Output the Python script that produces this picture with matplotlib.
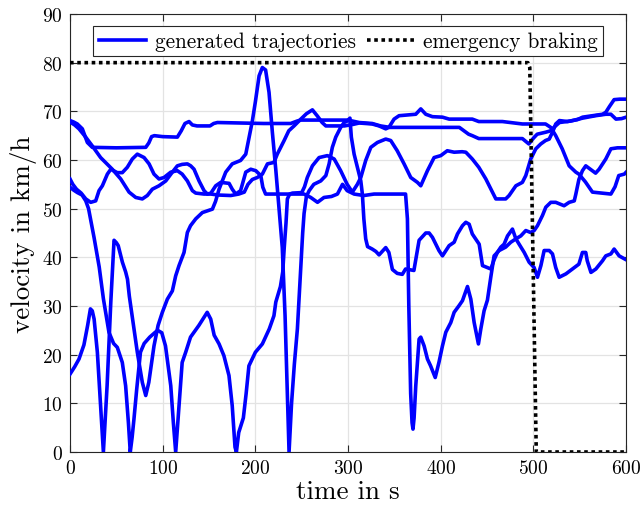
import matplotlib
matplotlib.use('Agg')
import matplotlib.pyplot as plt

# ---------------- data ----------------
traj_a = [(0, 68.1), (4, 67.8), (7.9, 67.4), (13.3, 66.4), (16, 65), (18.7, 63.6), (24, 62.6),
          (50, 62.5), (81.7, 62.6), (85, 63.5), (88, 64.8), (91, 65), (100, 64.8), (115.8, 64.7),
          (120, 66), (124, 67.5), (128.4, 67.9), (132, 67.2), (137, 67), (151, 67), (155, 67.5),
          (159, 67.7), (209, 67.5), (238, 67.5), (245, 68), (249, 68.2), (300, 68.2), (312, 67.7),
          (326, 67.5), (335, 67), (345, 66.7), (420, 66.7), (425, 66), (430, 65.3), (434, 65),
          (441, 64.4), (488, 64.4), (495, 63.3), (500, 64.5), (504, 65.3), (513, 65.7), (518.6, 66),
          (522, 66.7), (528, 67.7), (540, 68), (553, 68.6), (567, 69.1), (578, 69.4), (583.5, 69.4),
          (589, 68.4), (595, 68.5), (600, 68.8)]

traj_b = [(0, 67.8), (5, 67.2), (9.7, 66.4), (16.9, 64.7), (24, 62.9), (33, 60.5), (45.6, 58.1),
          (54.7, 56.1), (63.7, 53.4), (70.9, 52.3), (78, 52), (83.4, 52.7), (88.8, 54), (96, 54.7),
          (103.3, 55.7), (110.4, 57.5), (115.8, 58.8), (121, 59.1), (126.6, 59.2), (130.2, 58.8),
          (133.8, 58.1), (139.2, 55.7), (144.6, 53.7), (148.2, 53), (152, 53.2), (157.2, 54.7),
          (162.6, 55.4), (171.6, 55.2), (175, 54), (178.8, 53), (184, 53.7), (189.6, 57.5),
          (195, 58.1), (200.4, 57.8), (205.8, 56.8), (208, 54.4), (211, 53), (227, 53), (252.5, 53),
          (259.7, 52.3), (267, 51.3), (274, 52.3), (282, 52.5), (288.5, 53), (294, 55), (299, 53.7),
          (306.5, 53), (317, 52.7), (328, 53), (362, 53), (364, 47.9), (365.5, 30), (367.5, 12),
          (369, 6), (370, 4.7), (371.2, 7), (373, 13.6), (376.6, 23.2), (378.4, 23.6), (382, 21.8),
          (385.6, 19.1), (389, 17.7), (394, 15.3), (398, 18.4), (401.8, 21.8), (405.4, 24.6),
          (410.8, 26.6), (414.4, 28.7), (419.8, 30.1), (423.4, 31.1), (428.8, 34), (432.4, 31.4),
          (436, 26.6), (440.6, 22.2), (443.2, 25.3), (446.7, 29), (450.3, 31.2), (454, 36),
          (457.5, 40.3), (461, 41), (464.8, 42.1), (468.3, 42.7), (472, 44.4), (477.3, 45.8),
          (481, 43.8), (484.5, 42.7), (490, 41), (495.3, 39), (500.7, 37.9), (504.3, 35.9),
          (508, 38.3), (511.5, 41.4), (517, 41.4), (520.5, 40.7), (524, 37.9), (527.7, 35.9),
          (535, 36.6), (542, 37.6), (549, 38.6), (552.8, 41), (556.4, 41), (558, 39.3), (562, 36.9),
          (567.3, 37.6), (574.5, 39.3), (578, 40.3), (583.5, 40.7), (587, 41.7), (592.4, 40.3),
          (598, 39.7), (600, 39.5)]

traj_c = [(0, 56.1), (3, 55), (7, 54), (12, 53.2), (17, 52), (22.3, 51.3), (27.7, 51.6), (31.3, 53.7),
          (34.9, 54.7), (40.3, 57.1), (44, 58.1), (51, 57.4), (56.4, 57.4), (61.8, 58.5), (67.2, 60.2),
          (72.6, 61.2), (79.9, 60.5), (85.3, 59.2), (90.6, 57.1), (96, 56.1), (101.4, 56.4),
          (108.7, 57.5), (115.8, 57.8), (121, 57.1), (126.6, 55.7), (132, 53.7), (135.6, 53.2),
          (144.6, 53), (152, 53), (160, 52.8), (173.4, 52.7), (182, 53), (188, 53.4), (192, 55),
          (196.7, 56), (202, 56.4), (207.5, 57.1), (213, 59.2), (220, 59.5), (223.6, 61.2), (231, 64),
          (236, 66), (241.7, 67), (249, 68.4), (255, 69.5), (261.5, 70.3), (267, 69), (272, 67.7),
          (276, 67), (296, 67), (305, 67.3), (312, 67.6), (326, 67.4), (333.4, 67), (340.6, 66.4),
          (344, 66.7), (349.6, 68.4), (355, 69.1), (373, 69.4), (378.4, 70.5), (383.8, 69.4),
          (391, 68.9), (401.8, 68.8), (409, 68.4), (434, 68.4), (441, 67.9), (466.5, 67.9),
          (488, 67.4), (513, 67.4), (518.6, 66.7), (524, 65), (531, 62.3), (538.5, 58.8),
          (545.7, 57.5), (549, 57.1), (556, 55.5), (563.6, 53.4), (583.5, 53), (588, 54.5),
          (592, 56.8), (598, 57.1), (600, 57.5)]

traj_d = [(0, 16), (5, 17.5), (9.7, 19.1), (15, 22), (19, 26), (22, 29.4), (24, 29), (26, 27.3),
          (29.5, 20.5), (33, 9.5), (36, 0), (40, 13.6), (44, 30.8), (47.5, 43.5), (50, 43), (52, 42.4),
          (56.5, 39), (60, 37), (62, 35.5), (64, 32), (67, 28), (72.6, 20.5), (78, 14.3), (81.7, 11.6),
          (85, 14.3), (90.6, 21.8), (95, 26), (99.6, 28.7), (105, 31.4), (110.4, 33.1), (114, 36.2),
          (117.6, 38.3), (123, 41), (126.6, 45.1), (130, 46.5), (135.6, 47.9), (142.8, 49.2),
          (153.6, 49.9), (157, 51.5), (160.8, 54), (168, 57.5), (175, 59.2), (184, 59.9),
          (189.6, 61.2), (193, 64.5), (196.7, 68), (200, 72), (204, 77.3), (207.5, 79), (211, 78.5),
          (214.7, 73.9), (218.3, 65.7), (222, 58), (225.5, 50), (229, 42), (232, 28), (234.5, 12),
          (236.3, 0), (239, 10), (242, 18), (245.3, 25.3), (249, 38.3), (251, 45), (252.5, 49),
          (255, 52.5), (258, 53.7), (263, 55), (270.5, 55.7), (276, 56.8), (279.5, 59.2), (283, 62.6),
          (286.7, 64.7), (292, 66.7), (295.7, 67.7), (299, 68), (302, 68.6), (303.5, 64.7),
          (306.5, 61.2), (310, 58.5), (313.7, 55.7), (315.4, 53), (317, 47.9), (319, 43.8),
          (321, 42.2), (326, 41.7), (330, 41.2), (333.4, 40.5), (340.6, 42), (344, 41), (347.8, 37.5),
          (353, 36.7), (358.5, 36.5), (362, 37.6), (367.6, 37.4), (371, 37.3), (376.6, 43.5),
          (383.8, 45), (387.4, 45), (391, 44.1), (398, 41.4), (401.8, 40.3), (409, 42.4),
          (414.4, 43.1), (418, 44.8), (423.4, 46.5), (427, 47.2), (430.6, 46.8), (434, 44.8),
          (441.4, 42.7), (445, 38.3), (450.3, 37.9), (454, 37.6), (457.5, 39.5), (461, 41),
          (463, 41.4), (470, 42.1), (475.5, 43.1), (481, 43.8), (486.3, 44.4), (491.7, 45.5),
          (497, 45.1), (500.7, 45.5), (504.3, 46.5), (509.7, 48.6), (513.3, 50.3), (518.7, 51.3),
          (524, 51.3), (533, 50.6), (538.5, 51.3), (544, 51.6), (545.7, 53), (549, 56), (552.8, 57.8),
          (556.4, 58.8), (563.6, 57.8), (567, 57.3), (570.8, 58.1), (578, 60.2), (583.5, 62.3),
          (590.6, 62.5), (600, 62.5)]

traj_e = [(0, 54.4), (4, 53.8), (8, 53.3), (13, 52.8), (17, 51.6), (20, 50), (22, 48), (26, 44),
          (31.5, 38), (36, 31.5), (42, 24.6), (47, 22.3), (51, 21.5), (56.4, 18.4), (60, 13.6),
          (63, 6), (65, 0), (67, 3), (69, 6.8), (72, 13), (76, 20.5), (80, 22.3), (86, 23.6),
          (92, 24.6), (94.5, 25), (99, 24.5), (103, 21.8), (108.7, 13.6), (111.5, 6), (114, 0),
          (117.6, 9.5), (121, 18.4), (124.8, 20.5), (130, 23.6), (139, 26), (148, 28.7),
          (151.8, 27.3), (155.5, 24), (160.8, 22.2), (166, 19.8), (171.5, 15.7), (175, 9.5),
          (178, 1), (179.5, 0), (182, 4), (187, 7), (190, 12), (193, 17.7), (200, 20.5),
          (207.5, 22.2), (215, 25.3), (220, 28), (222, 30.8), (227, 34), (229.5, 37), (231, 41.7),
          (233, 47), (234.5, 52), (237, 53), (240, 53.2), (250, 53.3), (253, 54.5), (256, 56.4),
          (261.5, 58.8), (268.7, 60.5), (277.7, 60.9), (285, 60.2), (292, 57.8), (299, 55),
          (304.6, 53.4), (310, 55), (313.7, 56.4), (319, 59.9), (324.5, 62.6), (331.6, 63.6),
          (340.6, 64.3), (346, 64), (353, 61.9), (360.4, 59.2), (367.6, 56.4), (374.8, 55.4),
          (378.4, 54.7), (385.6, 57.8), (392.8, 60.5), (400, 60.9), (407, 61.9), (414.4, 61.6),
          (423, 61.7), (427, 61.6), (434, 60.2), (441, 58.5), (448.6, 56.1), (455.7, 53.4),
          (459.4, 52), (470, 52), (473.7, 52.7), (481, 54.7), (488, 55.4), (491.7, 56.8), (497, 60.2),
          (502.5, 62.3), (507.9, 63.3), (513, 64), (517, 64.3), (520.5, 65.7), (524, 67.4),
          (528, 68.1), (536.6, 67.9), (547.5, 68.3), (553, 68.8), (574.5, 69.4), (578, 69.8),
          (582, 71), (587, 72.4), (593, 72.5), (600, 72.5)]

braking_t = [0, 494, 496, 503, 600]
braking_v = [80, 80, 79, 0, 0]

trajectories = [traj_a, traj_b, traj_c, traj_d, traj_e]

x_ticks = [0, 100, 200, 300, 400, 500, 600]
y_ticks = [0, 10, 20, 30, 40, 50, 60, 70, 80, 90]

# ---------------- style ----------------
plt.rcParams['font.family'] = ['cmr10', 'DejaVu Serif']
plt.rcParams['mathtext.fontset'] = 'cm'
plt.rcParams['axes.formatter.use_mathtext'] = True

fig = plt.figure(figsize=(6.4, 5.1), dpi=100)
ax = fig.add_axes([0.1094, 0.1118, 0.869, 0.8588])

for i, tr in enumerate(trajectories):
    xs = [p[0] for p in tr]
    ys = [p[1] for p in tr]
    ax.plot(xs, ys, color='#0000ff', lw=2.6, solid_joinstyle='round',
            label='generated trajectories' if i == 0 else None, zorder=3)

ax.plot(braking_t, braking_v, color='black', lw=2.6, linestyle=(0, (1, 1)),
        label='emergency braking', zorder=4)

ax.set_xlim(0, 600)
ax.set_ylim(0, 90)
ax.set_xticks(x_ticks)
ax.set_yticks(y_ticks)
ax.grid(True, color='#e3e3e3', lw=0.9)
ax.set_axisbelow(True)
ax.tick_params(direction='in', top=True, right=True, length=5, width=0.8,
               labelsize=14, colors='#262626', labelcolor='black', pad=5)
for s in ax.spines.values():
    s.set_color('#262626')
    s.set_linewidth(0.8)

ax.set_xlabel('time in s', fontsize=19.5, labelpad=2)
ax.set_ylabel('velocity in km/h', fontsize=19.5, labelpad=4)

leg = ax.legend(loc='upper center', bbox_to_anchor=(0.5, 0.972), ncol=2, fontsize=15.3,
                frameon=True, fancybox=False, edgecolor='#262626', framealpha=1,
                handlelength=2.25, handletextpad=0.4, columnspacing=0.5,
                borderpad=0.25, borderaxespad=0.0)
leg.get_frame().set_linewidth(0.8)

fig.savefig('out.png', dpi=100)
